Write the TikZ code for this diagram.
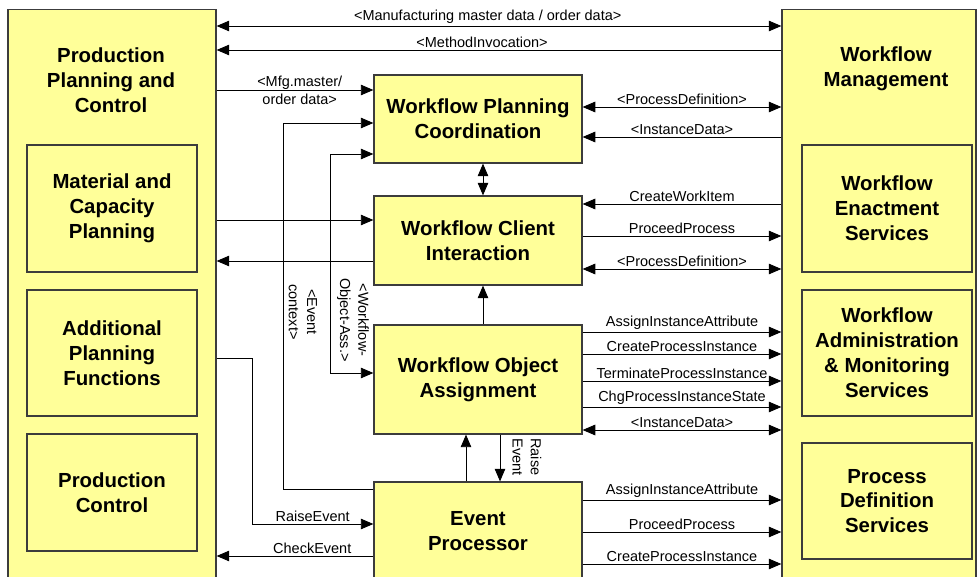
\documentclass[tikz,border=0pt]{standalone}
\usepackage{fontspec}
\setmainfont{Liberation Sans}
\usepackage{tikz}
\usetikzlibrary{arrows.meta, positioning}
\definecolor{boxfill}{RGB}{255,255,153}
\definecolor{boxline}{RGB}{60,60,60}
\tikzstyle{system} = [rectangle, draw=boxline, fill=boxfill, line width=0.8pt]
\tikzstyle{module} = [rectangle, draw=boxline, fill=boxfill, line width=0.8pt, align=center, font=\fontsize{14.5}{17.7}\selectfont\bfseries]
\tikzstyle{title} = [align=center, font=\fontsize{14.5}{17.7}\selectfont\bfseries]
\tikzstyle{lbl} = [font=\fontsize{10.3}{13}\selectfont, inner sep=1.5pt]
\tikzstyle{wire} = [line width=0.7pt]
\tikzstyle{arrow} = [line width=0.7pt, -{Triangle[length=9pt,width=7.5pt]}]
\tikzstyle{dblarrow} = [line width=0.7pt, {Triangle[length=9pt,width=7.5pt]}-{Triangle[length=9pt,width=7.5pt]}]

\begin{document}
\begin{tikzpicture}[x=0.025cm, y=-0.025cm]
    \clip (0,0) rectangle (978,577);

    % Production Planning and Control
    \node[system, minimum width=5.2cm, minimum height=14.75cm] (ppc) at (112,305) {};
    \node[title] (ppctitle) at (111,80) {Production\\Planning and\\Control};
    \node[module, minimum width=4.25cm, minimum height=3.175cm] (mcp) at (112,208.5) {Material and\\Capacity\\Planning};
    \node[module, minimum width=4.25cm, minimum height=3.15cm] (apf) at (112,353) {Additional\\Planning\\Functions};
    \node[module, minimum width=4.25cm, minimum height=2.925cm] (pc) at (112,492.5) {Production\\Control};

    % Workflow Management
    \node[system, minimum width=4.85cm, minimum height=14.75cm] (wfm) at (879,305) {};
    \node[title] (wfmtitle) at (886,69) {Workflow\\Management};
    \node[module, minimum width=4.25cm, minimum height=3.175cm] (wes) at (887,208.5) {Workflow\\Enactment\\Services};
    \node[module, minimum width=4.25cm, minimum height=3.15cm] (wams) at (887,353) {Workflow\\Administration\\\& Monitoring\\Services};
    \node[module, minimum width=4.25cm, minimum height=2.9cm] (pds) at (887,501) {Process\\Definition\\Services};

    % Integration components
    \node[module, minimum width=5.2cm, minimum height=2.2cm] (wpc) at (478,119) {Workflow Planning\\Coordination};
    \node[module, minimum width=5.2cm, minimum height=2.225cm] (wci) at (478,240.5) {Workflow Client\\Interaction};
    \node[module, minimum width=5.2cm, minimum height=2.725cm] (woa) at (478,379.5) {Workflow Object\\Assignment};
    \node[module, minimum width=5.2cm, minimum height=2.45cm] (ep) at (478,531) {Event\\Processor};

    % Top level exchange
    \draw[dblarrow] (ppc.east |- 0,26) -- node[lbl, above, pos=0.48] (lmfg) {<Manufacturing master data / order data>} (wfm.west |- 0,26);
    \draw[arrow] (wfm.west |- 0,50) -- node[lbl, above, pos=0.53] (lmeth) {<MethodInvocation>} (ppc.east |- 0,50);
    \draw[arrow] (ppc.east |- 0,90) -- node[lbl, align=center, pos=0.53] (lmfg2) {<Mfg.master/\\order data>} (wpc.west |- 0,90);

    % Planning coordination
    \draw[dblarrow] (wpc.east |- 0,107) -- node[lbl, above] (lpd1) {<ProcessDefinition>} (wfm.west |- 0,107);
    \draw[arrow] (wfm.west |- 0,137) -- node[lbl, above] (lid1) {<InstanceData>} (wpc.east |- 0,137);
    \draw[dblarrow] (wpc.south -| 483,0) -- (wci.north -| 483,0);

    % Client interaction
    \draw[arrow] (ppc.east |- 0,220) -- (wci.west |- 0,220);
    \draw[arrow] (wci.west |- 0,261) -- (ppc.east |- 0,261);
    \draw[arrow] (wfm.west |- 0,204) -- node[lbl, above] (lcwi) {CreateWorkItem} (wci.east |- 0,204);
    \draw[arrow] (wci.east |- 0,236) -- node[lbl, above] (lpp1) {ProceedProcess} (wfm.west |- 0,236);
    \draw[dblarrow] (wci.east |- 0,269) -- node[lbl, above] (lpd2) {<ProcessDefinition>} (wfm.west |- 0,269);

    % Object assignment
    \draw[arrow] (woa.north -| 483,0) -- (wci.south -| 483,0);
    \draw[dblarrow] (wpc.west |- 0,154) -| (330,373) -- (woa.west |- 0,373);
    \node[lbl, rotate=-90, align=center] (lwoa) at (353,320) {<Workflow-\\Object-Ass.>};
    \draw[arrow] (woa.east |- 0,332) -- node[lbl, above] (lia1) {AssignInstanceAttribute} (wfm.west |- 0,332);
    \draw[arrow] (woa.east |- 0,354) -- node[lbl, above] (lcpi1) {CreateProcessInstance} (wfm.west |- 0,354);
    \draw[arrow] (woa.east |- 0,381) -- node[lbl, above] (ltpi) {TerminateProcessInstance} (wfm.west |- 0,381);
    \draw[arrow] (woa.east |- 0,407) -- node[lbl, above] (lcps) {ChgProcessInstanceState} (wfm.west |- 0,407);
    \draw[dblarrow] (woa.east |- 0,430) -- node[lbl, above] (lid2) {<InstanceData>} (wfm.west |- 0,430);

    % Event processor
    \draw[arrow] (ep.north -| 466,0) -- (woa.south -| 466,0);
    \draw[arrow] (woa.south -| 500,0) -- (ep.north -| 500,0);
    \node[lbl, rotate=-90, align=left] (lraise) at (527,457) {Raise\\Event};
    \draw[arrow] (ep.west |- 0,489) -| (283,123) -- (wpc.west |- 0,123);
    \node[lbl, rotate=-90, align=center] (levt) at (303,312) {<Event\\context>};
    \draw[arrow] (ppc.east |- 0,358) -| (252,524) -- node[lbl, above] (lre) {RaiseEvent} (ep.west |- 0,524);
    \draw[arrow] (ep.west |- 0,556) -- node[lbl, above, pos=0.39] (lce) {CheckEvent} (ppc.east |- 0,556);
    \draw[arrow] (ep.east |- 0,500) -- node[lbl, above] (lia2) {AssignInstanceAttribute} (wfm.west |- 0,500);
    \draw[arrow] (ep.east |- 0,532) -- node[lbl, above] (lpp2) {ProceedProcess} (wfm.west |- 0,532);
    \draw[arrow] (ep.east |- 0,564) -- node[lbl, above] (lcpi2) {CreateProcessInstance} (wfm.west |- 0,564);
\end{tikzpicture}
\end{document}
